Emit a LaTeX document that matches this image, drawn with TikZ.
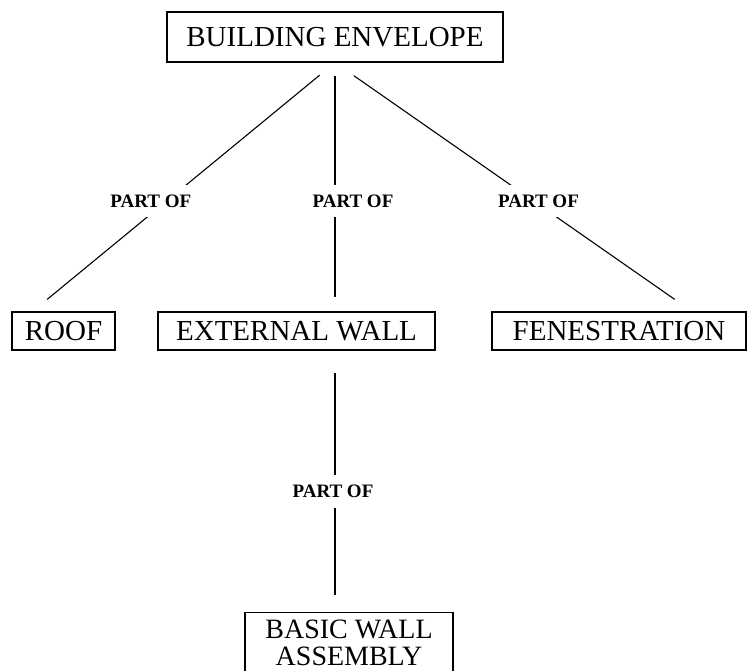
\documentclass[tikz,border=0pt]{standalone}
\usepackage{fontspec}
\setmainfont{Liberation Serif}
\begin{document}
\begin{tikzpicture}[x=1pt, y=-1pt, line width=1.1pt,
    part/.style = {draw, font=\fontsize{29}{26}\selectfont, inner sep=0pt, minimum height=38pt},
    rel/.style = {fill=white, font=\bfseries\fontsize{19}{19}\selectfont, inner xsep=2pt, inner ysep=10pt}]
    \useasboundingbox (0,0) rectangle (748,671);
    \node[part, minimum width=336pt, minimum height=50pt] (env) at (335,37) {BUILDING ENVELOPE};
    \node[part, minimum width=103pt] (roof) at (63.5,331) {ROOF};
    \node[part, minimum width=277pt] (wall) at (296.5,331) {EXTERNAL WALL};
    \node[part, minimum width=254pt] (fen) at (619,331) {FENESTRATION};
    \node[part, font=\fontsize{28}{27}\selectfont, minimum width=208pt, minimum height=60pt, align=center, anchor=north] (basic) at (349,612) {BASIC WALL\\ASSEMBLY};
    \draw[shorten <=20pt, shorten >=19pt] (env.south) -- node[rel, pos=0.556, xshift=-16pt] {PART OF} ([xshift=-31pt]roof.north);
    \draw[shorten <=13pt, shorten >=14pt] (env.south) -- node[rel, pos=0.556, xshift=18pt] {PART OF} (env.south |- wall.north);
    \draw[shorten <=23pt, shorten >=21pt] (env.south) -- node[rel, pos=0.556, xshift=5pt] {PART OF} ([xshift=73pt]fen.north);
    \draw[shorten <=22pt, shorten >=17pt] (env.south |- wall.south) -- node[rel, pos=0.54, xshift=-2pt] {PART OF} (env.south |- basic.north);
\end{tikzpicture}
\end{document}
